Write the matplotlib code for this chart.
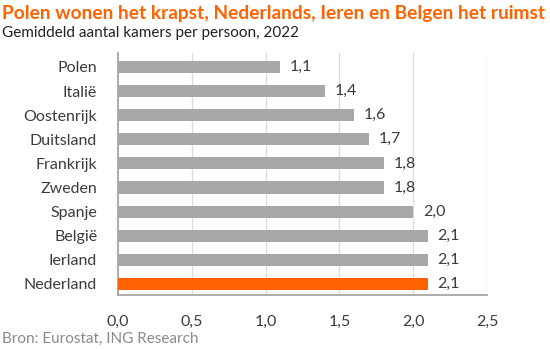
import matplotlib.pyplot as plt

landen = ["Polen", "Italië", "Oostenrijk", "Duitsland", "Frankrijk",
          "Zweden", "Spanje", "België", "Ierland", "Nederland"]
kamers = [1.1, 1.4, 1.6, 1.7, 1.8, 1.8, 2.0, 2.1, 2.1, 2.1]
xticks = [0.0, 0.5, 1.0, 1.5, 2.0, 2.5]

plt.rcParams['font.family'] = ['Lato', 'DejaVu Sans']

oranje = "#FF6200"
grijs = "#A8A8A8"
tekst = "#3C3C3C"

fig = plt.figure(figsize=(5.5, 3.49), dpi=100)
ax = fig.add_axes([118/550, 54/349, 369/550, 242/349])

kleuren = [grijs] * len(landen)
kleuren[landen.index("Nederland")] = oranje
pos = list(range(len(landen)))
ax.barh(pos, kamers, height=0.5, color=kleuren, zorder=3)

for p, v in zip(pos, kamers):
    ax.text(v + 0.065, p, f"{v:.1f}".replace(".", ","), va="center", ha="left",
            fontsize=11.5, color=tekst)

ax.set_xlim(0, 2.5)
ax.set_ylim(9.46, -0.58)
ax.set_yticks(pos)
ax.set_yticklabels(landen, fontsize=11.5, color=tekst)
ax.set_xticks(xticks)
ax.set_xticklabels([f"{t:.1f}".replace(".", ",") for t in xticks], fontsize=11.5, color=tekst)
ax.tick_params(axis="y", length=0, pad=15)
ax.tick_params(axis="x", length=0, pad=14)
ax.grid(axis="x", color="#DCDCDC", linewidth=0.9, zorder=0)
for s in ["top", "right"]:
    ax.spines[s].set_visible(False)
for s in ["left", "bottom"]:
    ax.spines[s].set_color("#A0A0A0")
    ax.spines[s].set_linewidth(1.2)

fig.text(0.003, 0.962, "Polen wonen het krapst, Nederlands, Ieren en Belgen het ruimst",
         fontsize=13.8, fontweight="bold", color=oranje, ha="left", va="center")
fig.text(0.003, 0.905, "Gemiddeld aantal kamers per persoon, 2022",
         fontsize=11, color="#222222", ha="left", va="center")
fig.text(0.003, 0.03, "Bron: Eurostat, ING Research",
         fontsize=11, color="#8A8A8A", ha="left", va="center")

fig.savefig("out.png", dpi=100)
